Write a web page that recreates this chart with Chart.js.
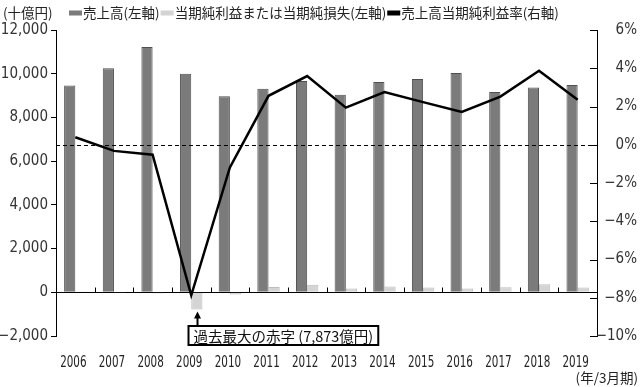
<!DOCTYPE html>
<html><head><meta charset="utf-8">
<script src="https://cdn.jsdelivr.net/npm/chart.js@4"></script>
<style>html,body{margin:0;padding:0;background:#fff}</style>
</head><body>
<canvas id="c" width="640" height="387"></canvas>
<script>
const years = ['2006','2007','2008','2009','2010','2011','2012','2013','2014','2015','2016','2017','2018','2019'];
const sales = [9465, 10248, 11227, 10000, 8969, 9316, 9666, 9041, 9616, 9762, 10034, 9162, 9369, 9481];
const netIncome = [37, -33, -58, -787, -107, 239, 347, 175, 265, 217, 172, 231, 363, 223];
const marginPct = [0.39, -0.32, -0.52, -7.87, -1.19, 2.56, 3.59, 1.94, 2.75, 2.23, 1.72, 2.52, 3.87, 2.35];
const legendLabels = ['売上高(左軸)', '当期純利益または当期純損失(左軸)', '売上高当期純利益率(右軸)'];
const unitLeft = '(十億円)';
const unitX = '(年/3月期)';
const noteText = '過去最大の赤字 (7,873億円)';
const noteIndex = 3;

const NUM = "'Liberation Sans Narrow','DejaVu Sans Condensed','Arial Narrow',sans-serif";
const JP = "'Noto Sans CJK JP',sans-serif";
const fmt = v => (v < 0 ? '−' : '') + Math.abs(v).toLocaleString('en-US');

const decor = {
  id: 'decor',
  afterDatasetDraw(chart, args) {
    if (args.meta.type !== 'bar') return;
    const {ctx, chartArea: a, scales: {y1}} = chart;
    const z = Math.round(y1.getPixelForValue(0)) + 0.5;
    ctx.save();
    ctx.strokeStyle = '#000'; ctx.lineWidth = 1; ctx.setLineDash([4, 3]);
    ctx.beginPath(); ctx.moveTo(a.left, z); ctx.lineTo(a.right, z); ctx.stroke();
    ctx.restore();
  },
  afterDraw(chart) {
    const {ctx, chartArea: a, scales: {x, y, y1}} = chart;
    ctx.save();
    ctx.strokeStyle = '#000'; ctx.lineWidth = 1;
    const line = (x1, y1_, x2, y2) => { ctx.beginPath(); ctx.moveTo(x1, y1_); ctx.lineTo(x2, y2); ctx.stroke(); };
    // category boundary ticks on zero line
    const z0 = Math.round(y.getPixelForValue(0)) + 0.5;
    for (let i = 0; i < years.length - 1; i++) {
      const bx = Math.round((x.getPixelForValue(i) + x.getPixelForValue(i + 1)) / 2) + 0.5;
      line(bx, z0, bx, z0 - 5);
    }
    // right axis inward ticks
    y1.ticks.forEach(t => {
      const py = Math.round(y1.getPixelForValue(t.value)) + 0.5;
      line(a.right - 7, py, a.right, py);
    });
    // x category labels (condensed)
    ctx.fillStyle = '#222';
    ctx.font = '16px ' + NUM;
    ctx.textAlign = 'center';
    ctx.textBaseline = 'middle';
    years.forEach((t, i) => {
      ctx.save();
      ctx.translate(x.getPixelForValue(i) - 2, 363);
      ctx.scale(0.72, 1);
      ctx.fillText(t, 0, 0);
      ctx.restore();
    });
    // legend
    ctx.textAlign = 'left';
    ctx.font = '13.5px ' + JP;
    const ly = 13;
    const sw = ['#7b7b7b', '#d4d4d4', '#000'];
    let lx = 69;
    legendLabels.forEach((t, i) => {
      ctx.fillStyle = sw[i];
      ctx.fillRect(lx, ly - 2.5, 13, 5);
      ctx.fillStyle = '#222';
      ctx.fillText(t, lx + 14, ly);
      lx += 14 + ctx.measureText(t).width + 1;
    });
    ctx.fillText(unitLeft, 3, ly);
    // x unit
    ctx.textAlign = 'right';
    ctx.fillText(unitX, 638, 378);
    // annotation
    const el = chart.getDatasetMeta(2).data[noteIndex];
    const bx = Math.round(el.x) + 0.5;
    const bottom = Math.max(el.y, el.base);
    const boxTop = 326, boxH = 19;
    ctx.textAlign = 'left';
    ctx.font = '14.5px ' + JP;
    const tw = ctx.measureText(noteText).width;
    const boxL = bx - 9;
    ctx.fillStyle = '#fff';
    ctx.fillRect(boxL, boxTop, tw + 10, boxH);
    ctx.lineWidth = 2;
    ctx.strokeRect(boxL, boxTop, tw + 10, boxH);
    ctx.fillStyle = '#111';
    ctx.fillText(noteText, boxL + 5, boxTop + boxH / 2 + 0.5);
    line(bx, boxTop - 1, bx, bottom + 6);
    ctx.beginPath();
    ctx.moveTo(bx, bottom + 2); ctx.lineTo(bx - 3.5, bottom + 9); ctx.lineTo(bx + 3.5, bottom + 9); ctx.closePath();
    ctx.fillStyle = '#000'; ctx.fill();
    ctx.restore();
  }
};

new Chart(document.getElementById('c'), {
  data: {
    labels: years,
    datasets: [
      {type: 'line', label: legendLabels[2], data: marginPct, yAxisID: 'y1', borderColor: '#000', backgroundColor: '#000',
       borderWidth: 2.5, pointRadius: 0, tension: 0, order: 0},
      {type: 'bar', label: legendLabels[0], data: sales, yAxisID: 'y', backgroundColor: '#7b7b7b', borderColor: '#4f4f4f',
       borderWidth: 1, order: 1, categoryPercentage: 0.58, barPercentage: 1.0},
      {type: 'bar', label: legendLabels[1], data: netIncome, yAxisID: 'y', backgroundColor: '#d4d4d4', borderColor: '#bdbdbd',
       borderWidth: 1, order: 2, categoryPercentage: 0.58, barPercentage: 1.0}
    ]
  },
  options: {
    responsive: false,
    animation: false,
    devicePixelRatio: 1,
    layout: {padding: {top: 30, right: 3, left: 0, bottom: 0}},
    plugins: {legend: {display: false}, tooltip: {enabled: false}},
    scales: {
      x: {
        type: 'category',
        offset: true,
        grid: {display: false, drawTicks: false},
        border: {display: false},
        ticks: {display: false},
        afterFit: s => { s.height = 51; }
      },
      y: {
        position: 'left',
        min: -2000, max: 12000,
        grid: {
          drawOnChartArea: true,
          color: c => (c.tick && c.tick.value === 0 ? '#000' : 'rgba(0,0,0,0)'),
          tickColor: '#000', tickLength: 5, drawTicks: true, lineWidth: 1
        },
        border: {display: true, color: '#000', width: 1},
        ticks: {stepSize: 2000, color: '#333', padding: 3, font: {family: NUM, size: 15}, callback: v => fmt(v)},
        afterFit: s => { s.width = 56; }
      },
      y1: {
        position: 'right',
        min: -10, max: 6,
        grid: {drawOnChartArea: false, drawTicks: false},
        border: {display: true, color: '#000', width: 1},
        ticks: {stepSize: 2, color: '#333', padding: 6, crossAlign: 'far', font: {family: NUM, size: 15}, callback: v => fmt(v) + '%'},
        afterFit: s => { s.width = 40; }
      }
    }
  },
  plugins: [decor]
});
</script>
</body></html>
